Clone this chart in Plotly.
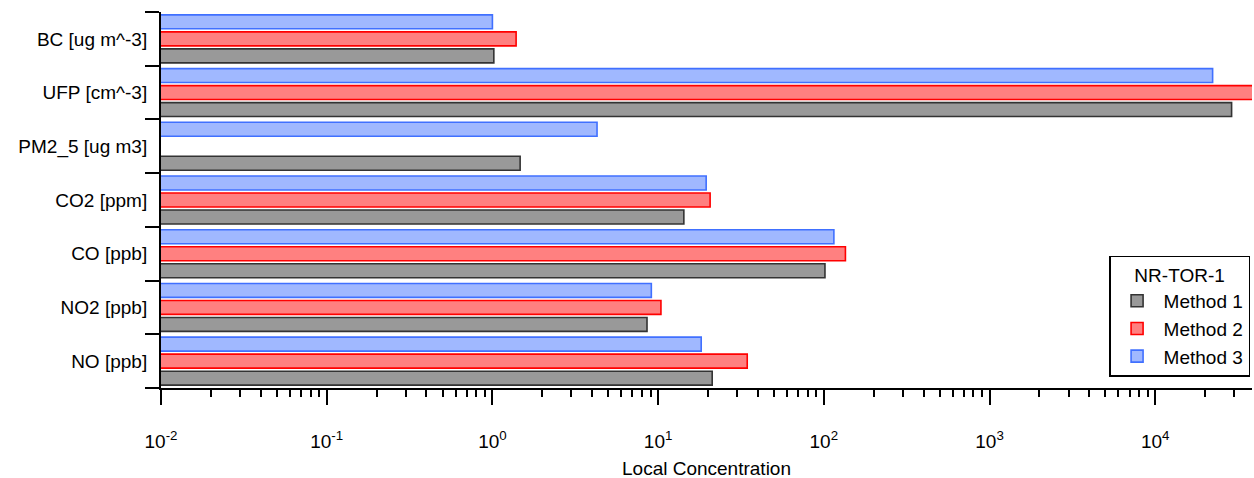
import plotly.graph_objects as go

categories = ["NO [ppb]", "NO2 [ppb]", "CO [ppb]", "CO2 [ppm]", "PM2_5 [ug m3]", "UFP [cm^-3]", "BC [ug m^-3]"]
method1 = [21.2, 8.57, 101.6, 14.3, 1.47, 28900, 1.02]
method2 = [34.5, 10.4, 135.0, 20.6, None, 50000, 1.39]
method3 = [18.2, 9.1, 115.0, 19.5, 4.28, 22200, 1.00]
series_names = ["Method 1", "Method 2", "Method 3"]
legend_title = "NR-TOR-1"
x_title = "Local Concentration"
decades = [-2, -1, 0, 1, 2, 3, 4]
tick_text = ["10<sup>-2</sup>", "10<sup>-1</sup>", "10<sup>0</sup>", "10<sup>1</sup>",
             "10<sup>2</sup>", "10<sup>3</sup>", "10<sup>4</sup>"]

fills = ["rgb(153,153,153)", "rgb(255,128,128)", "rgb(160,184,255)"]
edges = ["rgb(51,51,51)", "rgb(255,0,0)", "rgb(64,112,255)"]

FONT = "Arial, Liberation Sans, sans-serif"
FS = 19

fig = go.Figure()
for name, vals, fc, ec in zip(series_names, [method1, method2, method3], fills, edges):
    fig.add_trace(go.Bar(
        x=vals, y=categories, orientation="h", name=name,
        marker=dict(color=fc, line=dict(color=ec, width=1.6)),
    ))

minor_vals = [m * 10 ** d for d in range(-2, 5) for m in range(2, 10)]

fig.update_layout(
    width=1254, height=478,
    margin=dict(l=161, r=2, t=12, b=90),
    paper_bgcolor="white", plot_bgcolor="white",
    barmode="group", bargap=0.05, bargroupgap=0.18,
    font=dict(family=FONT, size=FS, color="black"),
    showlegend=True,
    legend=dict(
        title=dict(text=legend_title, side="top center", font=dict(family=FONT, size=FS)),
        traceorder="normal",
        x=0.869, xanchor="left", y=0.03, yanchor="bottom",
        bgcolor="white", bordercolor="black", borderwidth=1.5,
        font=dict(family=FONT, size=FS),
        itemwidth=43,
        tracegroupgap=0,
    ),
    annotations=[dict(
        text=x_title, xref="paper", yref="paper", x=0.5, y=-0.215,
        xanchor="center", yanchor="middle", showarrow=False,
        font=dict(family=FONT, size=FS, color="black"),
    )],
)

fig.update_xaxes(
    type="log", range=[-2, 4.584],
    automargin=False,
    showgrid=False, zeroline=False,
    showline=True, linecolor="black", linewidth=2,
    ticks="outside", ticklen=15, tickwidth=1.5, tickcolor="black",
    tickvals=[10 ** d for d in decades], ticktext=tick_text,
    tickfont=dict(family=FONT, size=FS, color="black"),
    ticklabelstandoff=20,
    minor=dict(ticks="outside", ticklen=7, tickwidth=1.5, tickcolor="black",
               tickvals=minor_vals, showgrid=False),
)

fig.update_yaxes(
    type="category",
    range=[-0.5, 6.5],
    automargin=False,
    showgrid=False, zeroline=False,
    showline=True, linecolor="black", linewidth=2,
    ticks="outside", tickson="boundaries", ticklen=14, tickwidth=2, tickcolor="black",
    tickfont=dict(family=FONT, size=FS, color="black"),
    ticklabelstandoff=8,
)

fig.write_html(
    "out.html",
    config={"displayModeBar": False},
    post_script="document.body.style.margin='0px';document.body.style.overflow='hidden';",
)
